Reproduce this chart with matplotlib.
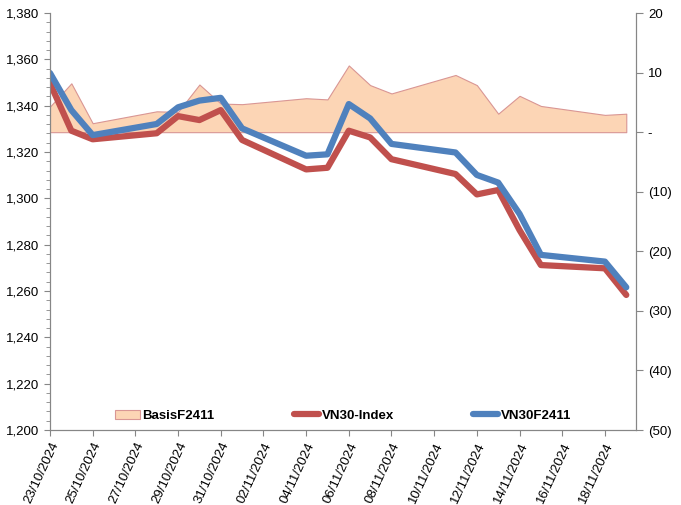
import pandas as pd
import matplotlib.pyplot as plt
import matplotlib.dates as mdates
from matplotlib.ticker import FuncFormatter, MultipleLocator

plt.rcParams['font.family'] = ['Liberation Sans', 'DejaVu Sans']

# Dias de negociacion
fechas = pd.to_datetime([
    "2024-10-23", "2024-10-24", "2024-10-25", "2024-10-28", "2024-10-29",
    "2024-10-30", "2024-10-31", "2024-11-01", "2024-11-04", "2024-11-05",
    "2024-11-06", "2024-11-07", "2024-11-08", "2024-11-11", "2024-11-12",
    "2024-11-13", "2024-11-14", "2024-11-15", "2024-11-18", "2024-11-19",
])
vn30_index = [1349.7, 1329.2, 1325.5, 1328.1, 1335.5, 1333.8, 1338.1, 1325.2,
              1312.5, 1313.2, 1329.2, 1326.3, 1316.9, 1310.5, 1301.7, 1303.6,
              1286.3, 1271.2, 1269.8, 1258.3]
vn30f2411 = [1354.1, 1338.1, 1327.3, 1332.1, 1339.3, 1342.2, 1343.4, 1330.2,
             1318.4, 1319.0, 1340.7, 1334.5, 1323.5, 1319.8, 1310.1, 1306.8,
             1293.3, 1275.6, 1272.7, 1261.6]
basis = [4.3, 8.2, 1.5, 3.5, 3.4, 8.0, 4.8, 4.7, 5.7, 5.5,
         11.2, 7.9, 6.5, 9.6, 7.9, 3.1, 6.1, 4.4, 2.9, 3.1]

tick_fechas = pd.date_range("2024-10-23", "2024-11-18", freq="2D")

fig = plt.figure(figsize=(6.81, 5.05), dpi=100)
ax = fig.add_axes([0.0734, 0.1485, 0.8606, 0.8257])
axb = ax.twinx()
ax.set_zorder(2)
axb.set_zorder(1)
ax.patch.set_visible(False)

area = axb.fill_between(fechas, 0, basis, facecolor='#FCD5B5', edgecolor='#D99694',
                        linewidth=0.8, label='BasisF2411')
l1, = ax.plot(fechas, vn30_index, color='#C0504D', linewidth=4.5,
              solid_capstyle='round', label='VN30-Index')
l2, = ax.plot(fechas, vn30f2411, color='#4F81BD', linewidth=4.5,
              solid_capstyle='round', label='VN30F2411')

ax.set_ylim(1200, 1380)
axb.set_ylim(-50, 20)
ax.set_xlim(fechas[0], fechas[-1] + pd.Timedelta(hours=11))

ax.yaxis.set_major_locator(MultipleLocator(20))
ax.yaxis.set_minor_locator(MultipleLocator(4))
ax.yaxis.set_major_formatter(FuncFormatter(lambda v, p: f"{v:,.0f}"))
axb.yaxis.set_major_locator(MultipleLocator(10))

def fmt_basis(v, p):
    if abs(v) < 1e-9:
        return "-"
    if v < 0:
        return f"({-v:.0f})"
    return f"{v:.0f}"
axb.yaxis.set_major_formatter(FuncFormatter(fmt_basis))

ax.set_xticks(tick_fechas)
ax.xaxis.set_major_formatter(mdates.DateFormatter("%d/%m/%Y"))
for lab in ax.get_xticklabels():
    lab.set_rotation(65)
    lab.set_ha('right')
    lab.set_rotation_mode('anchor')

for a in (ax, axb):
    a.spines['top'].set_visible(False)
    for s in ('left', 'right', 'bottom'):
        a.spines[s].set_color('#868686')
    a.tick_params(colors='#868686', labelcolor='black', labelsize=9.5)
ax.tick_params(axis='y', which='major', length=4)
ax.tick_params(axis='y', which='minor', length=3, color='#868686')
ax.tick_params(axis='x', length=4)
axb.tick_params(axis='y', length=5)

leg = ax.legend(handles=[area, l1, l2], loc='lower center', ncol=3, frameon=False,
                bbox_to_anchor=(0.5, -0.009), columnspacing=6.0, handlelength=1.9,
                handletextpad=0.2, prop={'weight': 'bold', 'size': 9.5})

fig.savefig("out.png", dpi=100)
